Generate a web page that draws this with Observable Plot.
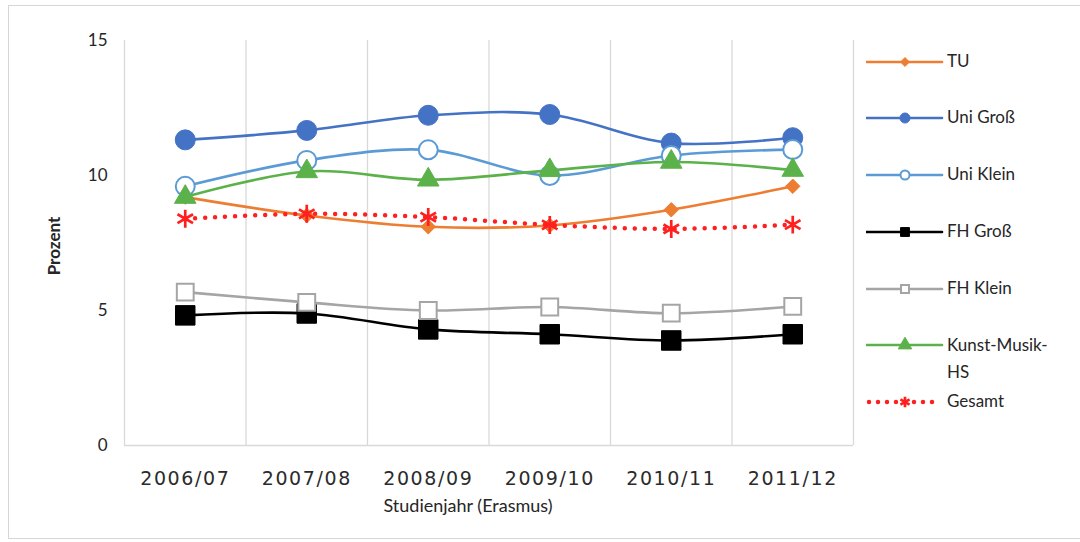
<!DOCTYPE html>
<html><head><meta charset="utf-8">
<script src="https://cdn.jsdelivr.net/npm/d3@7"></script>
<script src="https://cdn.jsdelivr.net/npm/@observablehq/plot@0.6"></script>
<style>
body{margin:0;background:#fff;}
#wrap{position:relative;width:1080px;height:542px;overflow:hidden;font-family:Lato,"Open Sans",sans-serif;color:#262626;background:#fff;}
#frame{position:absolute;left:8px;top:5px;width:1080px;height:534px;border:1.5px solid #d6d6d6;box-sizing:border-box;pointer-events:none;}
#chart{position:absolute;left:0;top:0;}
.lbl{position:absolute;white-space:nowrap;}
#ylab{left:53px;top:246px;transform:translate(-50%,-50%) rotate(-90deg);font-weight:bold;font-size:17px;}
#xlab{left:468px;top:505px;transform:translate(-50%,-50%);font-size:18px;}
#legend{position:absolute;left:0;top:0;}
.leg{position:absolute;left:866px;height:20px;}
.leg svg{position:absolute;left:0;top:-10px;}
.leg span{position:absolute;left:81px;top:-11px;font-size:17px;line-height:20px;white-space:nowrap;}
</style>
</head><body>
<div id="wrap">
  <div id="chart"></div>
  <div class="lbl" id="ylab">Prozent</div>
  <div class="lbl" id="xlab">Studienjahr (Erasmus)</div>
  <div id="legend"></div>
  <div id="frame"></div>
</div>
<script>
// ---- data ----
const years = ["2006/07", "2007/08", "2008/09", "2009/10", "2010/11", "2011/12"];
const seriesNames = ["TU", "Uni Groß", "Uni Klein", "FH Groß", "FH Klein", "Kunst-Musik-HS", "Gesamt"];
const tu        = [9.2, 8.52, 8.1, 8.15, 8.73, 9.6];
const uniGross  = [11.32, 11.67, 12.23, 12.26, 11.2, 11.4];
const uniKlein  = [9.6, 10.56, 10.95, 10.0, 10.74, 10.96];
const fhGross   = [4.82, 4.89, 4.3, 4.12, 3.89, 4.12];
const fhKlein   = [5.68, 5.3, 5.0, 5.13, 4.9, 5.15];
const kunst     = [9.2, 10.15, 9.84, 10.19, 10.5, 10.2];
const gesamt    = [8.4, 8.58, 8.46, 8.17, 8.02, 8.18];
const yTicks = [0, 5, 10, 15];

const seriesValues = [tu, uniGross, uniKlein, fhGross, fhKlein, kunst, gesamt];
const data = seriesNames.flatMap((s, k) => seriesValues[k].map((v, i) => ({series: s, i, value: v})));

// ---- styles ----
const styles = {
  "TU":             {color: "#ED7D31", symbol: "diamond2", r: 6.5, fill: "#ED7D31", lr: 4},
  "Uni Groß":       {color: "#4472C4", symbol: "circle",   r: 10,  fill: "#4472C4", lr: 5},
  "Uni Klein":      {color: "#5B9BD5", symbol: "circle",   r: 9.5, fill: "white",   lr: 4.5, sw: 2},
  "FH Groß":        {color: "#000000", symbol: "square",   r: 11,  fill: "#000000", lr: 5},
  "FH Klein":       {color: "#A5A5A5", symbol: "square",   r: 9.5, fill: "white",   lr: 4.5, sw: 2},
  "Kunst-Musik-HS": {color: "#5CB24A", symbol: "triangle", r: 8,   fill: "#5CB24A", lr: 5},
  "Gesamt":         {color: "#FF1F1F", symbol: "asterisk", r: 8.5, fill: "none",    lr: 5, sw: 2.7, dotted: true}
};

const marks = [
  Plot.ruleX(d3.range(-0.5, years.length, 1), {stroke: "#d9d9d9", strokeWidth: 1.3}),
  Plot.ruleY([0], {stroke: "#d9d9d9", strokeWidth: 1.5})
];
for (const s of seriesNames) {
  const st = styles[s];
  const d = data.filter(e => e.series === s);
  marks.push(Plot.line(d, {
    x: "i", y: "value", stroke: st.color, strokeWidth: st.dotted ? 4.5 : 2.6,
    curve: "catmull-rom",
    strokeDasharray: st.dotted ? "0 10" : null,
    strokeLinecap: "round"
  }));
  marks.push(Plot.dot(d, {
    x: "i", y: "value", symbol: st.symbol, r: st.r,
    fill: st.fill, stroke: st.color, strokeWidth: st.sw ?? 1
  }));
}
marks.push(Plot.axisY({ticks: yTicks, tickSize: 0, tickPadding: 17, label: null, fontSize: 17, fontFamily: "Lato", fill: "#262626"}));
marks.push(Plot.axisX({ticks: d3.range(years.length), tickFormat: i => years[i], tickSize: 0, tickPadding: 26, label: null, fontSize: 19, fontFamily: "DejaVu Sans", fill: "#2b2b2b"}));

const chart = Plot.plot({
  width: 1080, height: 542,
  marginLeft: 124, marginRight: 227, marginTop: 40, marginBottom: 97,
  style: {background: "transparent", overflow: "visible"},
  x: {type: "linear", domain: [-0.5, years.length - 0.5]},
  y: {domain: [0, 15]},
  marks
});
document.getElementById("chart").append(chart);
chart.querySelectorAll('g[aria-label="x-axis tick label"] text').forEach(t => t.setAttribute("letter-spacing", "1.6"));

// ---- legend ----
const legendY = {"TU": 62, "Uni Groß": 118, "Uni Klein": 175, "FH Groß": 232, "FH Klein": 289, "Kunst-Musik-HS": 345, "Gesamt": 402};
const symMap = {diamond2: d3.symbolDiamond2, circle: d3.symbolCircle, square: d3.symbolSquare, triangle: d3.symbolTriangle, asterisk: d3.symbolAsterisk};
const legend = d3.select("#legend");
for (const s of seriesNames) {
  const st = styles[s];
  const row = legend.append("div").attr("class", "leg").style("top", legendY[s] + "px");
  const svg = row.append("svg").attr("width", 78).attr("height", 20);
  svg.append("line").attr("x1", st.dotted ? 3 : 0).attr("x2", st.dotted ? 75 : 76).attr("y1", 10).attr("y2", 10)
    .attr("stroke", st.color).attr("stroke-width", st.dotted ? 4.5 : 2.6)
    .attr("stroke-dasharray", st.dotted ? "0 9" : null).attr("stroke-linecap", "round");
  svg.append("path").attr("transform", "translate(39,10)")
    .attr("d", d3.symbol(symMap[st.symbol], Math.PI * st.lr * st.lr)())
    .attr("fill", st.fill).attr("stroke", st.color).attr("stroke-width", st.sw ?? 1);
  const label = s === "Kunst-Musik-HS" ? "Kunst-Musik-<br>HS" : s;
  row.append("span").html(label).style("line-height", s === "Kunst-Musik-HS" ? "27px" : "20px")
    .style("top", s === "Kunst-Musik-HS" ? "-14px" : "-11px");
}
</script>
</body></html>
